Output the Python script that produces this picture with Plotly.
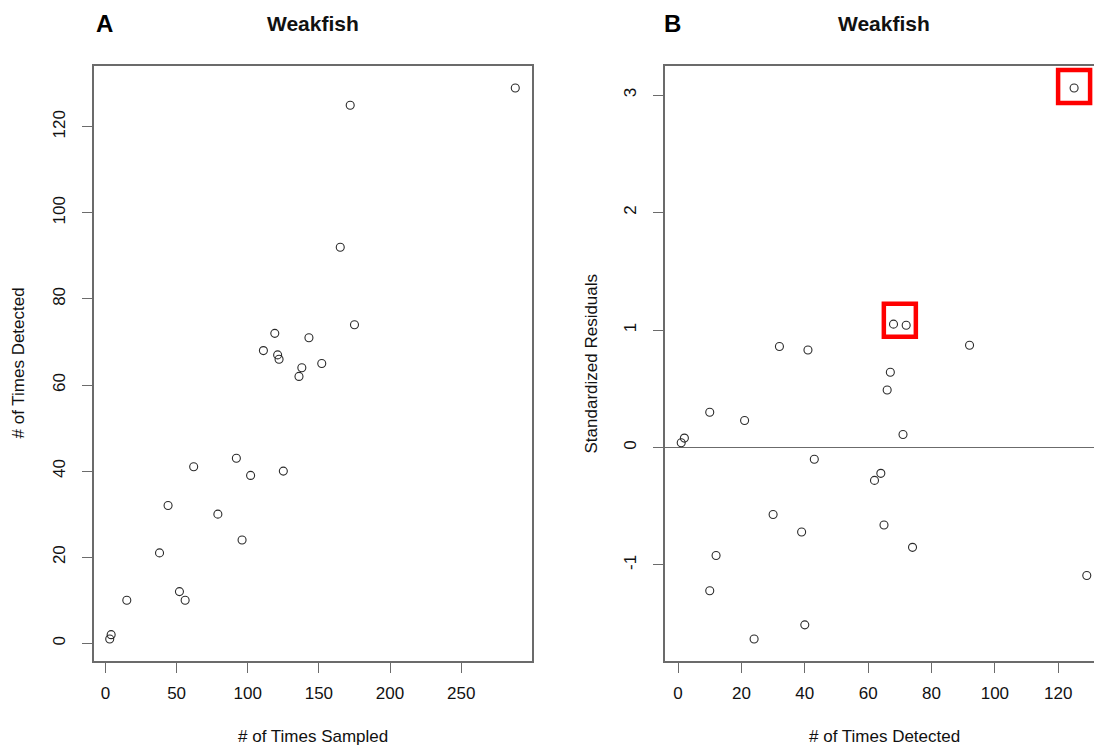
import plotly.graph_objects as go

# Weakfish detection data per station
sampled = [3, 4, 15, 38, 44, 52, 56, 62, 79, 92, 96, 102, 125,
           165, 175, 119, 143, 111, 121, 122, 152, 138, 136, 172, 288]
detected = [1, 2, 10, 21, 32, 12, 10, 41, 30, 43, 24, 39, 40,
            92, 74, 72, 71, 68, 67, 66, 65, 64, 62, 125, 129]
std_resid = [0.04, 0.08, 0.30, 0.23, 0.86, -0.92, -1.22, 0.83, -0.57, -0.10, -1.63, -0.72, -1.51,
             0.87, -0.85, 1.04, 0.11, 1.05, 0.64, 0.49, -0.66, -0.22, -0.28, 3.06, -1.09]

# flagged stations (by # detected), boxed in panel B
flag_groups = [[68, 72], [125]]

xa_ticks = [0, 50, 100, 150, 200, 250]
ya_ticks = [0, 20, 40, 60, 80, 100, 120]
xb_ticks = [0, 20, 40, 60, 80, 100, 120]
yb_ticks = [-1, 0, 1, 2, 3]
yb_labels = ["-1", "0", "1", "2", "3"]

W, H = 1094, 746
FONT = "Liberation Sans, Arial, sans-serif"
AX = "#6b6b6b"
PT = "#2b2b2b"


def pad_range(v, frac=0.04):
    lo, hi = min(v), max(v)
    s = hi - lo
    return [lo - frac * s, hi + frac * s]


# panel geometry in pixels
top_px, bot_px = 66, 661
a_left, b_left, pw = 93.5, 665, 438

ydom = [1 - bot_px / H, 1 - top_px / H]
adom = [a_left / W, (a_left + pw) / W]
bdom = [b_left / W, 1.0]

xa_rng = pad_range(sampled)
ya_rng = pad_range(detected)
xb_full = pad_range(detected)
yb_rng = pad_range(std_resid)
# panel B runs past the right edge of the page
vis = (W - b_left) / pw
xb_rng = [xb_full[0], xb_full[0] + (xb_full[1] - xb_full[0]) * vis]

fig = go.Figure()
fig.add_trace(go.Scatter(
    x=sampled, y=detected, mode="markers", xaxis="x", yaxis="y",
    marker=dict(symbol="circle-open", size=8, color=PT, line=dict(width=1.1)),
    showlegend=False, hoverinfo="x+y"))
fig.add_trace(go.Scatter(
    x=detected, y=std_resid, mode="markers", xaxis="x2", yaxis="y2",
    marker=dict(symbol="circle-open", size=8, color=PT, line=dict(width=1.1)),
    showlegend=False, hoverinfo="x+y"))

tickfont = dict(family=FONT, size=17, color="#111")
common = dict(showgrid=False, zeroline=False, showline=True, linecolor=AX, linewidth=1.5,
              ticks="outside", ticklen=10, tickcolor=AX, tickwidth=1.3, tickfont=tickfont)

fig.update_layout(
    width=W, height=H, margin=dict(l=0, r=0, t=0, b=0),
    paper_bgcolor="white", plot_bgcolor="white",
    xaxis=dict(domain=adom, range=xa_rng, tickvals=xa_ticks, anchor="y", mirror=True,
               ticklabelstandoff=6, **common),
    yaxis=dict(domain=ydom, range=ya_rng, tickvals=ya_ticks, anchor="x", mirror=True,
               tickangle=-90, ticklabelstandoff=10, **common),
    xaxis2=dict(domain=bdom, range=xb_rng, tickvals=xb_ticks, anchor="y2", mirror=True,
                ticklabelstandoff=6, **common),
    yaxis2=dict(domain=ydom, range=yb_rng, tickvals=yb_ticks, ticktext=yb_labels, anchor="x2",
                mirror=False, tickangle=-90, ticklabelstandoff=10, **common),
)
fig.update_yaxes(zeroline=True, zerolinecolor=AX, zerolinewidth=1.3, selector=dict(anchor="x2"))

# highlight boxes around flagged residuals
for grp in flag_groups:
    idx = [i for i, d in enumerate(detected) if d in grp]
    cx = sum(detected[i] for i in idx) / len(idx)
    cy = sum(std_resid[i] for i in idx) / len(idx)
    up = 3 if len(idx) > 1 else 0
    fig.add_shape(type="rect", xref="x2", yref="y2", xsizemode="pixel", ysizemode="pixel",
                  xanchor=cx, yanchor=cy, x0=-16, x1=16, y0=-15 + up, y1=18 + up,
                  line=dict(color="#ff0000", width=4.5), fillcolor="rgba(0,0,0,0)")

ann = []
title_font = dict(family=FONT, size=21, color="#111")
ypx = lambda p: 1 - p / H
xpx = lambda p: p / W
for left, letter, lx in [(a_left, "A", 104), (b_left, "B", 672)]:
    ann.append(dict(text="<b>Weakfish</b>", x=xpx(left + pw / 2), y=ypx(23), xref="paper", yref="paper",
                    showarrow=False, xanchor="center", yanchor="middle", font=title_font))
    ann.append(dict(text=f"<b>{letter}</b>", x=xpx(lx), y=ypx(23), xref="paper", yref="paper",
                    showarrow=False, xanchor="center", yanchor="middle",
                    font=dict(family=FONT, size=24, color="#000")))

label_font = dict(family=FONT, size=17, color="#111")
ann.append(dict(text="# of Times Sampled", x=xpx(a_left + pw / 2), y=ypx(736), xref="paper", yref="paper",
                showarrow=False, xanchor="center", yanchor="middle", font=label_font))
ann.append(dict(text="# of Times Detected", x=xpx(b_left + pw / 2), y=ypx(736), xref="paper", yref="paper",
                showarrow=False, xanchor="center", yanchor="middle", font=label_font))
ann.append(dict(text="# of Times Detected", x=xpx(18), y=ypx((top_px + bot_px) / 2), xref="paper",
                yref="paper", showarrow=False, textangle=-90, xanchor="center", yanchor="middle",
                font=label_font))
ann.append(dict(text="Standardized Residuals", x=xpx(591), y=ypx((top_px + bot_px) / 2), xref="paper",
                yref="paper", showarrow=False, textangle=-90, xanchor="center", yanchor="middle",
                font=label_font))
fig.update_layout(annotations=ann)

fig.write_html("out.html")
